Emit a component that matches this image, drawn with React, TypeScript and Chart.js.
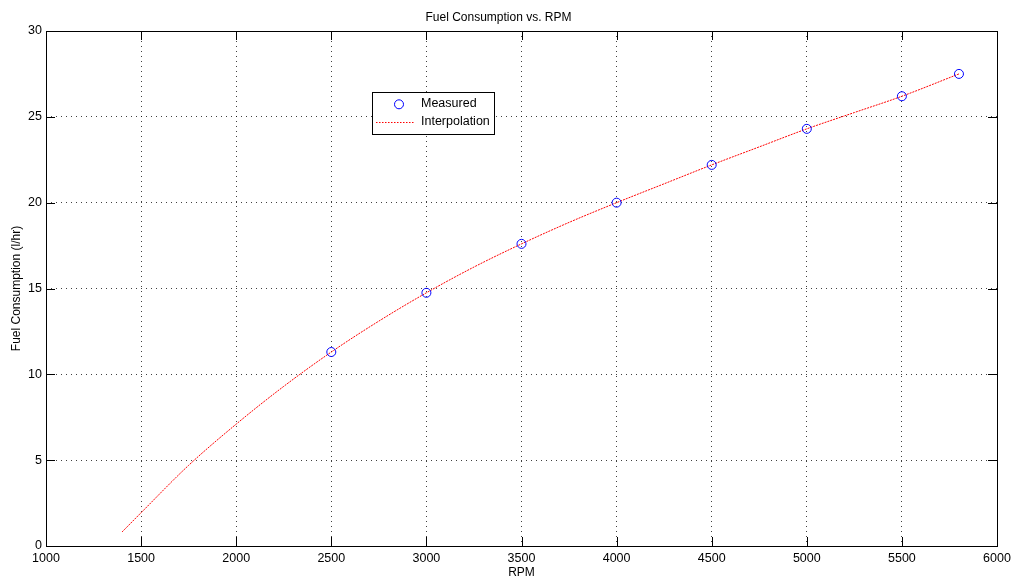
import React, { useEffect, useRef } from "react";
import { Chart, registerables } from "chart.js";
Chart.register(...registerables);

const chartTitle = "Fuel Consumption vs. RPM";
const xTitle = "RPM";
const yTitle = "Fuel Consumption (l/hr)";
const legendLabels = ["Measured", "Interpolation"];

const rpmMeasured = [2500, 3000, 3500, 4000, 4500, 5000, 5500, 5800];
const fuelMeasured = [11.3, 14.75, 17.6, 20.0, 22.2, 24.3, 26.2, 27.5];

const rpmInterp = [1400, 1500, 1750, 2000, 2250, 2500, 2750, 3000, 3250, 3500, 3750, 4000, 4250, 4500, 4750, 5000, 5250, 5500, 5800];
const fuelInterp = [0.82, 1.94, 4.7, 7.1, 9.3, 11.3, 13.1, 14.75, 16.25, 17.6, 18.85, 20.0, 21.1, 22.2, 23.25, 24.3, 25.25, 26.2, 27.5];

const xMin = 1000, xMax = 6000, xStep = 500;
const yMin = 0, yMax = 30, yStep = 5;

const FONT = "'Liberation Sans', Arial, Helvetica, sans-serif";

const framePlugin = {
  id: "frame",
  beforeDatasetsDraw(chart: any) {
    const { ctx, chartArea: a, scales } = chart;
    const tl = 9;
    ctx.save();
    ctx.strokeStyle = "#000";
    ctx.lineWidth = 1;
    ctx.setLineDash([]);
    ctx.beginPath();
    scales.x.ticks.forEach((t: any) => {
      const px = Math.round(scales.x.getPixelForValue(t.value)) + 0.5;
      ctx.moveTo(px, a.bottom);
      ctx.lineTo(px, a.bottom - tl);
      ctx.moveTo(px, a.top);
      ctx.lineTo(px, a.top + tl);
    });
    scales.y.ticks.forEach((t: any) => {
      const py = Math.round(scales.y.getPixelForValue(t.value)) + 0.5;
      ctx.moveTo(a.left, py);
      ctx.lineTo(a.left + tl, py);
      ctx.moveTo(a.right, py);
      ctx.lineTo(a.right - tl, py);
    });
    ctx.stroke();
    ctx.strokeRect(Math.round(a.left) + 0.5, Math.round(a.top) + 0.5, Math.round(a.right - a.left), Math.round(a.bottom - a.top));
    ctx.restore();
  },
  afterDraw(chart: any) {
    const { ctx, chartArea: a } = chart;
    const bx = a.left + 326, by = a.top + 61, bw = 122, bh = 42;
    ctx.save();
    ctx.fillStyle = "#fff";
    ctx.fillRect(bx, by, bw, bh);
    ctx.strokeStyle = "#000";
    ctx.lineWidth = 1;
    ctx.setLineDash([]);
    ctx.strokeRect(Math.round(bx) + 0.5, Math.round(by) + 0.5, bw, bh);
    const ds0 = chart.data.datasets[0];
    ctx.strokeStyle = ds0.pointBorderColor;
    ctx.lineWidth = ds0.pointBorderWidth;
    ctx.beginPath();
    ctx.arc(bx + 27, by + 12.3, ds0.pointRadius, 0, Math.PI * 2);
    ctx.stroke();
    const ds1 = chart.data.datasets[1];
    ctx.strokeStyle = ds1.borderColor;
    ctx.lineWidth = 1;
    ctx.setLineDash([1.5, 1.5]);
    ctx.beginPath();
    ctx.moveTo(bx + 4, by + 30.5);
    ctx.lineTo(bx + 43, by + 30.5);
    ctx.stroke();
    ctx.setLineDash([]);
    ctx.fillStyle = "#000";
    ctx.font = `12.5px ${FONT}`;
    ctx.textBaseline = "middle";
    ctx.textAlign = "left";
    ctx.fillText(legendLabels[0], bx + 49, by + 12);
    ctx.fillText(legendLabels[1], bx + 49, by + 30);
    ctx.restore();
  },
};

export default function App() {
  const ref = useRef<HTMLCanvasElement | null>(null);
  useEffect(() => {
    if (!ref.current) return;
    const chart = new Chart(ref.current, {
      type: "scatter",
      data: {
        datasets: [
          {
            label: legendLabels[0],
            data: rpmMeasured.map((x, i) => ({ x, y: fuelMeasured[i] })),
            showLine: false,
            pointStyle: "circle",
            pointRadius: 4.5,
            pointBorderWidth: 1,
            pointBorderColor: "#0000ff",
            pointBackgroundColor: "rgba(0,0,0,0)",
            backgroundColor: "rgba(0,0,0,0)",
            borderColor: "#0000ff",
          } as any,
          {
            label: legendLabels[1],
            data: rpmInterp.map((x, i) => ({ x, y: fuelInterp[i] })),
            showLine: true,
            pointRadius: 0,
            borderColor: "#ff0000",
            borderWidth: 1,
            borderDash: [2, 1],
            tension: 0.4,
            cubicInterpolationMode: "monotone",
            fill: false,
          } as any,
        ],
      },
      options: {
        responsive: false,
        animation: false,
        layout: { padding: { left: 0, right: 19, top: 0, bottom: 0 } },
        plugins: {
          legend: { display: false },
          tooltip: { enabled: false },
          title: {
            display: true,
            text: chartTitle,
            color: "#000",
            font: { family: FONT, size: 12, weight: "normal" },
            padding: { top: 10, bottom: 6.6 },
          },
        },
        scales: {
          x: {
            type: "linear",
            min: xMin,
            max: xMax,
            afterFit: (s: any) => { s.height = 36; },
            ticks: { stepSize: xStep, color: "#000", padding: 5, font: { family: FONT, size: 12.5 }, maxRotation: 0, autoSkip: false, callback: (v: any) => String(v) },
            grid: { color: "rgba(0,0,0,0.75)", lineWidth: 1, drawTicks: false },
            border: { display: false, dash: [1, 4] },
            title: { display: true, text: xTitle, color: "#000", font: { family: FONT, size: 12 }, padding: { top: 0, bottom: 1.8 } },
          },
          y: {
            type: "linear",
            min: yMin,
            max: yMax,
            afterFit: (s: any) => { s.width = 46; },
            ticks: { stepSize: yStep, color: "#000", padding: 4, font: { family: FONT, size: 12.5 }, callback: (v: any) => String(v) },
            grid: { color: "rgba(0,0,0,0.75)", lineWidth: 1, drawTicks: false },
            border: { display: false, dash: [1, 4] },
            title: { display: true, text: yTitle, color: "#000", font: { family: FONT, size: 12 }, padding: { top: 9.8, bottom: 0 } },
          },
        },
      } as any,
      plugins: [framePlugin],
    });
    return () => chart.destroy();
  }, []);
  return (
    <div style={{ position: "fixed", left: 0, top: 0, width: 1016, height: 582, background: "#fff" }}>
      <canvas ref={ref} width={1016} height={582} style={{ display: "block" }} />
    </div>
  );
}
